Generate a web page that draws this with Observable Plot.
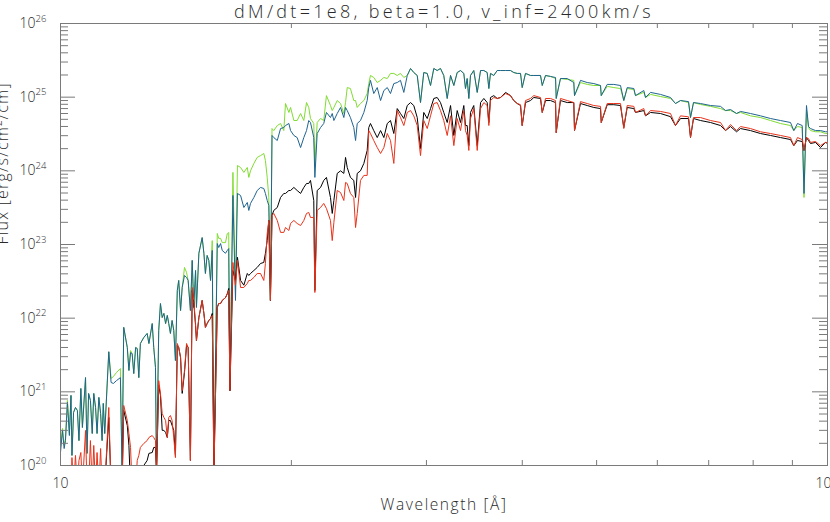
<!DOCTYPE html>
<html>
<head>
<meta charset="utf-8">
<script src="https://cdn.jsdelivr.net/npm/d3@7"></script>
<script src="https://cdn.jsdelivr.net/npm/@observablehq/plot@0.6"></script>
<style>
  html, body { margin: 0; padding: 0; background: #fff; }
  #chart svg { display: block; }
</style>
</head>
<body>
<div id="chart"></div>
<script>
// ---- data (wavelength in Å, flux in erg/s/cm²/cm) ----
const wavelength = [
  10.00,10.06,10.11,10.15,10.21,10.27,10.32,10.35,10.40,10.46,10.52,10.57,10.63,10.68,10.78,10.83,10.88,10.94,11.00,11.05,
  11.11,11.16,11.22,11.28,11.33,11.37,11.42,11.56,11.64,11.72,11.83,11.97,12.03,12.09,12.22,12.28,12.34,12.40,12.46,12.53,
  12.59,12.65,12.71,12.84,12.97,13.04,13.17,13.23,13.30,13.34,13.43,13.50,13.57,13.64,13.71,13.78,13.84,13.91,13.98,14.05,
  14.12,14.20,14.26,14.34,14.41,14.51,14.60,14.67,14.77,14.85,14.92,15.00,15.04,15.15,15.30,15.38,15.45,15.53,15.61,15.69,
  15.77,15.85,16.01,16.08,16.17,16.25,16.41,16.50,16.57,16.63,16.78,16.91,17.01,17.17,17.34,17.52,17.60,17.69,17.87,18.05,
  18.23,18.41,18.50,18.60,18.69,18.78,18.87,18.97,19.17,19.36,19.55,19.65,19.85,19.95,20.15,20.35,20.56,20.76,20.93,21.07,
  21.18,21.39,21.46,21.61,21.83,22.04,22.22,22.49,22.61,22.72,22.95,23.18,23.41,23.53,23.65,23.88,24.12,24.25,24.37,24.61,
  24.86,25.11,25.23,25.36,25.61,25.88,26.14,26.40,26.67,26.93,27.20,27.48,27.75,28.03,28.32,28.60,28.88,29.18,29.47,29.76,
  30.07,30.37,30.67,30.98,31.29,31.60,31.93,32.25,32.57,32.90,33.23,33.56,33.73,33.90,34.07,34.24,34.58,34.94,35.29,35.64,
  36.00,36.18,36.36,36.72,37.10,37.47,38.04,38.61,38.99,39.40,39.79,39.99,40.39,41.00,41.41,42.25,42.47,42.89,43.54,44.20,
  44.29,44.86,45.78,46.69,46.79,47.64,48.61,49.58,50.59,50.70,51.62,52.65,53.72,54.25,54.81,55.91,56.19,57.61,57.91,58.78,
  60.57,62.42,63.36,64.32,65.89,66.28,66.88,68.30,70.38,72.53,73.63,74.74,76.10,77.02,79.36,81.78,84.28,86.84,89.49,90.38,
  91.39,92.69,93.19,93.89,94.46,95.03,96.47,97.92,99.41,100.0
];
const fluxGreen = [
  1.76e20,3.18e20,1.87e20,2.33e20,7.64e20,2.72e20,8.94e20,1.37e20,5.25e20,6.13e20,5.58e20,2.18e20,1.11e21,3.28e20,1.56e21,1.46e20,9.5e20,7.64e20,2.72e20,9.5e20,
  6.13e20,2.72e20,8.4e20,5.08e20,2.18e20,6.96e20,2.72e20,3.5e21,1.52e21,1.61e21,1.83e21,2.07e21,8e19,7.5e21,4.0e21,1.95e21,3.63e21,3.3e21,1.77e21,4.0e21,
  3.87e21,1.56e21,4.53e21,5.46e21,6.2e21,4.53e21,8.45e21,4.0e21,2.14e21,8e19,6.8e21,1.58e22,1.02e22,1.16e22,8.45e21,1.09e22,8.45e21,6.2e21,9.3e21,6.8e21,
  2.66e21,2.38e22,3.25e22,1.27e22,2.61e22,4.88e22,4.17e22,3.25e22,1.27e22,6.08e22,1.4e22,4.44e22,1.4e22,7.6e22,1.24e23,7.6e22,4.04e22,7.1e22,6.08e22,3.25e22,
  1.13e23,8e19,1.41e23,1.21e23,1.21e23,1.06e23,1.06e23,1.41e23,1.45e23,1.04e21,9.52e23,2.38e22,1.18e24,1.11e24,9.52e23,1.11e24,8.14e23,1.0e24,1.26e24,1.52e24,
  1.61e24,1.72e24,1.38e24,8.14e23,4.35e23,1.74e22,3.75e24,3.52e24,4.12e24,4.39e24,3.52e24,8.2e24,6.2e24,7.25e24,4.82e24,4.82e24,6.0e24,4.82e24,8.45e24,7.25e24,
  5.13e24,4.39e24,1.18e24,4.53e24,5.13e24,4.82e24,1.05e25,7.7e24,6.58e24,7.25e24,9.0e24,8.2e24,6.0e24,8.45e24,1.35e25,1.31e25,9.0e24,9.0e24,7.25e24,8.2e24,
  9.0e24,1.12e25,1.53e25,1.97e25,1.85e25,1.58e25,1.69e25,1.85e25,1.79e25,2.1e25,2.1e25,1.97e25,2.1e25,1.85e25,1.97e25,2.45e25,2.16e25,1.97e25,8.45e24,2.16e25,
  2.1e25,1.44e25,2.45e25,2.3e25,2.45e25,1.97e25,9.6e24,1.97e25,1.44e25,2.16e25,2.3e25,2.1e25,1.31e25,1.79e25,9.6e24,1.97e25,2.3e25,1.16e25,2.3e25,2.3e25,
  2.16e25,1.31e25,2.1e25,1.97e25,2.3e25,2.3e25,2.3e25,2.3e25,2.16e25,2.1e25,2.1e25,1.35e25,2.1e25,1.97e25,1.97e25,1.97e25,1.44e25,1.97e25,1.91e25,1.79e25,
  9.6e24,1.79e25,1.74e25,1.69e25,1.05e25,1.58e25,1.49e25,1.44e25,1.44e25,1.05e25,1.4e25,1.35e25,1.31e25,9.0e24,1.31e25,1.27e25,1.05e25,1.16e25,9.9e24,1.09e25,
  1.02e25,9.6e24,8.2e24,9.0e24,8.45e24,5.29e24,8.45e24,7.96e24,7.5e24,7.0e24,6.58e24,6.58e24,6.0e24,6.2e24,5.58e24,5.29e24,4.82e24,4.39e24,4.12e24,3.52e24,
  4.0e24,3.87e24,4.35e23,6.58e24,3.87e24,3.52e24,3.39e24,3.39e24,3.21e24,3.21e24
];
const fluxBlue = [
  1.5e20,3.0e20,1.7e20,2.18e20,7.18e20,2.55e20,8.94e20,1.37e20,5.25e20,6.13e20,5.58e20,2.18e20,1.11e21,3.28e20,1.56e21,1.46e20,9.5e20,7.64e20,2.72e20,9.5e20,
  6.13e20,2.72e20,8.4e20,5.08e20,2.18e20,6.96e20,2.72e20,3.5e21,1.34e21,1.3e21,1.42e21,1.56e21,8e19,7.5e21,4.0e21,1.95e21,3.4e21,3.3e21,1.77e21,4.0e21,
  3.87e21,1.56e21,4.53e21,5.46e21,6.2e21,4.53e21,8.45e21,4.0e21,2.14e21,8e19,6.8e21,1.58e22,1.02e22,1.16e22,8.45e21,1.09e22,8.45e21,6.2e21,9.3e21,6.8e21,
  2.66e21,2.38e22,3.25e22,1.27e22,2.61e22,3.8e22,3.57e22,3.25e22,1.27e22,6.08e22,1.4e22,4.44e22,1.4e22,7.6e22,1.24e23,7.6e22,4.04e22,7.1e22,6.08e22,3.25e22,
  8.3e22,8e19,1.03e23,9.1e22,1.03e23,8.3e22,7.6e22,8.3e22,8.8e22,1.04e21,4.63e23,1.74e22,4.93e23,4.63e23,3.18e23,3.72e23,2.9e23,3.61e23,4.35e23,5.41e23,
  5.95e23,5.76e23,4.93e23,3.96e23,3.39e23,1.74e22,3.02e24,2.83e24,2.58e24,3.75e24,3.87e24,4.12e24,4.39e24,3.52e24,3.02e24,2.83e24,2.07e24,2.83e24,3.52e24,4.82e24,
  4.53e24,2.83e24,8.14e23,3.21e24,3.87e24,4.39e24,6.2e24,5.29e24,6.0e24,4.82e24,6.0e24,7.25e24,5.29e24,7.25e24,6.58e24,5.29e24,3.87e24,2.58e24,4.39e24,4.82e24,
  6.2e24,9.0e24,1.35e25,1.69e25,1.12e25,1.35e25,9.0e24,1.23e25,1.35e25,1.12e25,1.53e25,1.58e25,1.69e25,1.16e25,1.97e25,2.45e25,2.16e25,1.97e25,8.45e24,2.16e25,
  2.1e25,1.44e25,2.45e25,2.3e25,2.45e25,1.97e25,9.6e24,1.97e25,1.44e25,2.16e25,2.3e25,2.1e25,1.31e25,1.79e25,9.6e24,1.97e25,2.3e25,1.16e25,2.3e25,2.3e25,
  2.16e25,1.31e25,2.1e25,1.97e25,2.3e25,2.3e25,2.3e25,2.3e25,2.16e25,2.1e25,2.1e25,1.35e25,2.1e25,1.97e25,1.97e25,1.97e25,1.44e25,1.97e25,1.91e25,1.85e25,
  9.6e24,1.79e25,1.79e25,1.58e25,1.05e25,1.69e25,1.58e25,1.53e25,1.44e25,1.05e25,1.49e25,1.49e25,1.44e25,9.0e24,1.35e25,1.31e25,1.05e25,1.23e25,9.9e24,1.16e25,
  1.09e25,9.9e24,8.2e24,9.0e24,8.7e24,5.29e24,8.45e24,8.2e24,7.7e24,7.5e24,6.58e24,6.8e24,6.0e24,6.4e24,6.0e24,5.58e24,5.13e24,4.82e24,4.53e24,3.52e24,
  4.39e24,4.12e24,4.93e23,7.7e24,3.99e24,3.75e24,3.52e24,3.52e24,3.39e24,3.39e24
];
const fluxBlack = [
  5e19,5e19,5e19,5e19,5e19,5e19,5e19,5e19,5e19,5e19,5e19,5e19,5e19,5e19,5e19,5e19,5e19,5e19,5e19,5e19,
  5e19,5e19,5e19,5e19,5e19,5e19,5e19,4.49e20,5e19,5e19,5e19,5e19,5e19,5.58e20,3.49e20,1.87e20,5e19,5e19,5e19,5e19,
  5e19,5e19,5e19,1.0e20,1.17e20,1.46e20,1.5e20,1.76e20,1.76e20,8e19,1.22e21,8.94e20,3.0e20,3.0e20,2.81e20,2.4e20,4.08e20,4.08e20,3.49e20,3.0e20,
  1.37e20,4.25e21,4.0e21,2.92e21,9.52e20,1.83e21,4.25e21,4.0e21,1.17e20,2.38e22,1.63e22,7.9e21,4.97e21,1.02e22,1.74e22,1.16e22,7.5e21,8.45e21,9.3e21,9.9e21,
  1.16e22,8e19,1.4e22,1.58e22,1.58e22,1.74e22,1.9e22,2.15e22,2.53e22,1.04e21,4.44e22,3.25e22,6.7e22,3.25e22,2.8e22,4.04e22,3.8e22,4.04e22,4.44e22,4.88e22,
  5.53e22,5.7e22,7.6e22,1.13e23,2.12e23,1.74e22,2.48e23,2.9e23,3.18e23,4.35e23,4.93e23,4.93e23,5.41e23,5.41e23,5.95e23,5.41e23,4.93e23,5.95e23,6.74e23,6.74e23,
  7.41e23,3.96e23,2.38e22,5.41e23,5.95e23,7.41e23,8.14e23,4.35e23,2.64e23,3.96e23,9.23e23,1.0e24,9.23e23,1.52e24,1.11e24,8.14e23,7.41e23,4.35e23,9.23e23,1.0e24,
  1.26e24,1.89e24,3.87e24,4.39e24,3.52e24,2.83e24,3.52e24,2.83e24,4.39e24,4.82e24,3.21e24,7.0e24,6.0e24,5.13e24,7.7e24,8.45e24,7.7e24,5.29e24,2.01e24,6.2e24,
  5.13e24,7.0e24,9.6e24,9.9e24,8.45e24,6.2e24,4.53e24,7.7e24,3.02e24,6.58e24,4.53e24,7.7e24,4.12e24,4.12e24,2.2e24,6.2e24,7.7e24,2.2e24,8.45e24,9.6e24,
  8.45e24,4.53e24,9.9e24,1.05e25,9.6e24,9.9e24,1.16e25,1.05e25,9.0e24,8.2e24,7.7e24,4.12e24,8.45e24,9.0e24,9.9e24,9.6e24,6.2e24,9.0e24,9.0e24,8.45e24,
  3.3e24,9.0e24,8.45e24,8.45e24,3.52e24,8.2e24,7.7e24,7.25e24,7.0e24,4.53e24,7.9e24,7.9e24,7.7e24,3.87e24,7.25e24,7.0e24,6.2e24,6.58e24,5.58e24,6.2e24,
  6.0e24,5.44e24,4.12e24,5.13e24,5.13e24,2.83e24,5.13e24,4.82e24,4.53e24,4.12e24,3.52e24,3.99e24,3.39e24,3.75e24,3.52e24,3.21e24,3.02e24,2.83e24,2.66e24,2.2e24,
  2.58e24,2.5e24,1.89e24,2.83e24,2.58e24,2.35e24,2.43e24,2.07e24,2.43e24,2.35e24
];
const fluxRed = [
  5e19,5e19,5e19,5e19,5e19,5e19,5e19,1.28e20,5e19,1.37e20,5e19,1.17e20,1.5e20,5e19,2.99e20,5e19,5e19,2.18e20,5e19,1.87e20,
  5e19,1.5e20,5e19,1.7e20,5e19,5e19,5e19,6.13e20,5e19,5e19,5e19,5e19,5e19,6.53e20,4.08e20,2.72e20,1.76e20,5e19,5e19,5e19,
  1.17e20,1.37e20,1.76e20,1.99e20,2.18e20,2.4e20,2.55e20,2.4e20,2.18e20,8e19,1.42e21,9.52e20,5.08e20,4.49e20,4.08e20,2.4e20,4.49e20,4.77e20,4.08e20,2.4e20,
  1.28e20,4.53e21,4.0e21,2.92e21,1.04e21,1.95e21,4.53e21,4.0e21,1.17e20,2.61e22,1.74e22,8.45e21,4.97e21,1.02e22,1.74e22,1.16e22,7.5e21,8.45e21,9.3e21,9.9e21,
  1.09e22,8e19,1.4e22,1.58e22,1.58e22,1.74e22,1.9e22,2.15e22,2.38e22,1.04e21,5.7e22,2.8e22,6.08e22,2.61e22,2.61e22,2.96e22,3.25e22,3.25e22,3.57e22,4.04e22,
  4.04e22,3.25e22,5.53e22,1.41e23,2.12e23,1.74e22,2.48e23,2.64e23,2.12e23,1.46e23,1.46e23,1.70e23,1.55e23,1.93e23,2.12e23,1.93e23,1.81e23,2.12e23,2.64e23,2.72e23,
  2.33e23,2.33e23,2.23e22,2.9e23,3.18e23,3.61e23,3.08e23,2.12e23,1.13e23,1.99e23,5.41e23,5.08e23,3.96e23,6.96e23,6.74e23,4.93e23,4.35e23,1.70e23,2.64e23,7.41e23,
  8.67e23,8.67e23,3.52e24,3.21e24,2.58e24,2.07e24,1.72e24,2.07e24,3.21e24,2.58e24,1.26e24,6.58e24,5.29e24,4.12e24,6.2e24,6.58e24,5.58e24,4.12e24,1.61e24,4.82e24,
  3.75e24,5.58e24,8.2e24,8.45e24,6.58e24,4.82e24,3.02e24,5.58e24,2.2e24,5.13e24,3.52e24,6.58e24,3.52e24,3.02e24,1.89e24,5.13e24,7.0e24,1.89e24,7.0e24,8.45e24,
  7.7e24,4.12e24,9.0e24,9.9e24,9.6e24,9.9e24,1.12e25,1.05e25,9.0e24,8.2e24,7.9e24,4.12e24,9.0e24,9.6e24,1.05e25,9.9e24,6.2e24,9.6e24,9.6e24,9.0e24,
  3.3e24,9.6e24,9.0e24,8.45e24,3.52e24,8.7e24,8.2e24,7.7e24,7.5e24,4.53e24,8.2e24,8.2e24,8.2e24,3.75e24,7.7e24,7.5e24,6.2e24,7.0e24,5.58e24,6.58e24,
  6.4e24,6.0e24,4.12e24,5.58e24,5.41e24,2.83e24,5.29e24,5.29e24,4.82e24,4.53e24,3.52e24,4.25e24,3.52e24,3.99e24,3.75e24,3.39e24,3.21e24,3.02e24,2.83e24,2.2e24,
  2.83e24,2.66e24,1.89e24,2.83e24,2.74e24,2.43e24,2.5e24,2.2e24,2.43e24,2.43e24
];

// axis ticks and labels
const xTickValues = [10, 100];
const xTickLabels = ["10", "100"];
const xMinorTicks = [20, 30, 40, 50, 60, 70, 80, 90];
const yTickValues = [1e20, 1e21, 1e22, 1e23, 1e24, 1e25, 1e26];
const yTickExponents = ["20", "21", "22", "23", "24", "25", "26"];
const yMinorMantissas = [2, 3, 4, 5, 6, 7, 8, 9];

const titleText = "dM/dt=1e8, beta=1.0, v_inf=2400km/s";
const xTitle = "Wavelength [Å]";
const yTitle = "Flux [erg/s/cm²/cm]";

// ---- build ----
const rows = wavelength.map((w, i) => ({
  w, g: fluxGreen[i], b: fluxBlue[i], k: fluxBlack[i], r: fluxRed[i]
}));
const yMinorTicks = [];
for (const t of yTickValues.slice(0, -1)) for (const m of yMinorMantissas) yMinorTicks.push(m * t);

const W = 830, H = 522;
const mt = 23, mb = 57, ml = 60, mr = 3;
const plotW = W - ml - mr;
const plotH = H - mt - mb;
const axisColor = "#7a7a7a";
const textColor = "#2a2a2a";
const font = "Open Sans";
const fw = 300;

const chart = Plot.plot({
  width: W,
  height: H,
  marginTop: mt, marginBottom: mb, marginLeft: ml, marginRight: mr,
  style: { fontFamily: font, background: "#fff", overflow: "hidden" },
  x: { type: "log", domain: [10, 100], axis: null },
  y: { type: "log", domain: [1e20, 1e26], axis: null },
  marks: [
    Plot.line(rows, { x: "w", y: "g", stroke: "#80dc32", strokeWidth: 1, clip: true }),
    Plot.line(rows, { x: "w", y: "b", stroke: "#1f6490", strokeWidth: 1, clip: true }),
    Plot.line(rows, { x: "w", y: "k", stroke: "#000000", strokeWidth: 1, clip: true }),
    Plot.line(rows, { x: "w", y: "r", stroke: "#e8321a", strokeWidth: 1, clip: true }),
    Plot.frame({ stroke: axisColor }),
    // y ticks (inward, both sides)
    Plot.ruleY(yTickValues, { y: d => d, stroke: axisColor, insetRight: plotW - 15 }),
    Plot.ruleY(yTickValues, { y: d => d, stroke: axisColor, insetLeft: plotW - 15 }),
    Plot.ruleY(yMinorTicks, { y: d => d, stroke: axisColor, insetRight: plotW - 8 }),
    Plot.ruleY(yMinorTicks, { y: d => d, stroke: axisColor, insetLeft: plotW - 8 }),
    // x ticks (inward, top and bottom)
    Plot.ruleX(xMinorTicks, { x: d => d, stroke: axisColor, insetTop: plotH - 5 }),
    Plot.ruleX(xMinorTicks, { x: d => d, stroke: axisColor, insetBottom: plotH - 5 }),
    // y tick labels 10^N
    Plot.text(yTickValues, { y: d => d, text: () => "10", frameAnchor: "left", dx: -25, textAnchor: "end", lineAnchor: "middle", fontSize: 14, fontWeight: fw, fill: textColor }),
    Plot.text(yTickValues, { y: d => d, text: (d, i) => yTickExponents[i], frameAnchor: "left", dx: -25, dy: -5, textAnchor: "start", lineAnchor: "middle", fontSize: 9.5, fontWeight: fw, fill: textColor }),
    // x tick labels
    Plot.text(xTickValues, { x: d => d, text: (d, i) => xTickLabels[i], frameAnchor: "bottom", dy: 18, lineAnchor: "middle", fontSize: 14, fontWeight: fw, fill: textColor }),
    // axis titles
    Plot.text([xTitle], { text: d => d, frameAnchor: "bottom", dy: 40, lineAnchor: "middle", fontSize: 15.5, fontWeight: fw, fill: textColor }),
    Plot.text([yTitle], { text: d => d, frameAnchor: "left", dx: -58, rotate: -90, lineAnchor: "middle", fontSize: 16, fontWeight: fw, fill: textColor }),
    // title
    Plot.text([titleText], { text: d => d, frameAnchor: "top", dy: -11, lineAnchor: "middle", fontSize: 18, fontWeight: fw, fill: textColor })
  ]
});

// spacing tweaks to approximate the wide vector font of the original
d3.select(chart).selectAll("text").each(function () {
  const t = this.textContent;
  if (t === titleText) this.style.letterSpacing = "3.3px";
  else if (t === xTitle) this.style.letterSpacing = "1.6px";
  else if (t === yTitle) this.style.letterSpacing = "1.2px";
});

document.getElementById("chart").appendChild(chart);
</script>
</body>
</html>
